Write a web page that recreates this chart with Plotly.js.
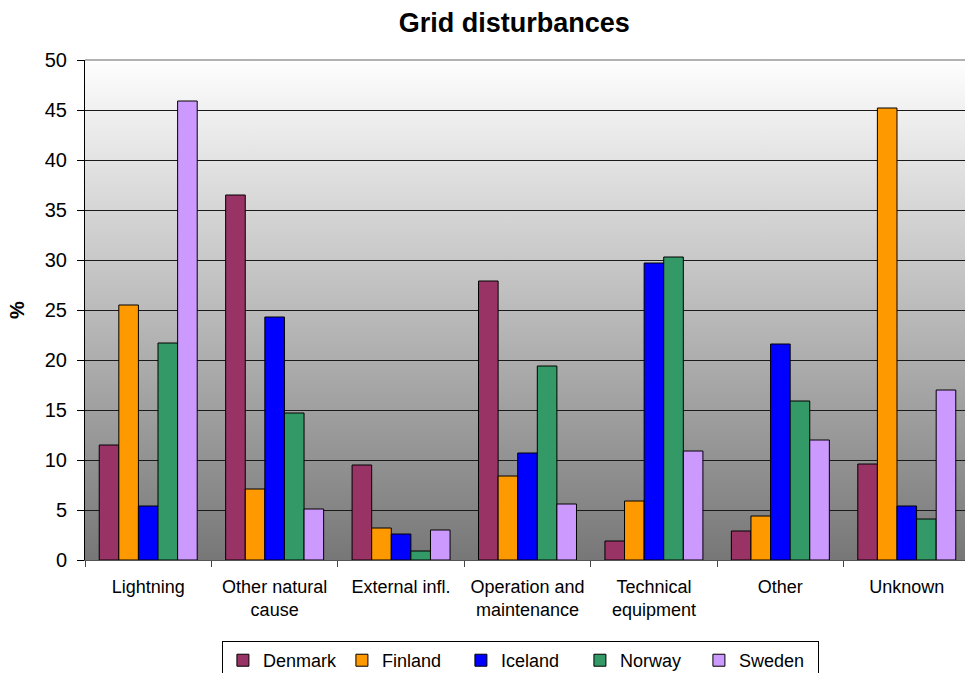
<!DOCTYPE html>
<html>
<head>
<meta charset="utf-8">
<script src="https://cdn.plot.ly/plotly-3.0.1.min.js"></script>
<style>
html,body{margin:0;padding:0;overflow:hidden;background:#fff;}
#chart{width:975px;height:673px;}
</style>
</head>
<body>
<div id="chart"></div>
<script>
var categories = ["Lightning", "Other natural cause", "External infl.", "Operation and maintenance", "Technical equipment", "Other", "Unknown"];
var tickLabels = ["Lightning", "Other natural<br>cause", "External infl.", "Operation and<br>maintenance", "Technical<br>equipment", "Other", "Unknown"];
var seriesNames = ["Denmark", "Finland", "Iceland", "Norway", "Sweden"];
var denmark = [11.5, 36.5, 9.5, 27.9, 1.9, 2.9, 9.6];
var finland = [25.5, 7.1, 3.2, 8.4, 5.9, 4.4, 45.2];
var iceland = [5.4, 24.3, 2.6, 10.7, 29.7, 21.6, 5.4];
var norway  = [21.7, 14.7, 0.9, 19.4, 30.3, 15.9, 4.1];
var sweden  = [45.9, 5.1, 3.0, 5.6, 10.9, 12.0, 17.0];
var colors = ["#993366", "#FF9900", "#0000FF", "#339966", "#CC99FF"];

var values = [denmark, finland, iceland, norway, sweden];
var traces = values.map(function(v, i){
  return {
    type: "bar",
    name: seriesNames[i],
    x: categories,
    y: v,
    marker: {color: colors[i], line: {color: "#000", width: 1}},
    hoverinfo: "x+y+name"
  };
});

var svg = '<svg xmlns="http://www.w3.org/2000/svg" width="100" height="100" preserveAspectRatio="none">' +
  '<defs><linearGradient id="g" x1="0" y1="0" x2="0" y2="1">' +
  '<stop offset="0" stop-color="#fefefe"/><stop offset="1" stop-color="#777777"/>' +
  '</linearGradient></defs><rect width="100" height="100" fill="url(#g)"/></svg>';
var bgImg = "data:image/svg+xml;charset=utf-8," + encodeURIComponent(svg);

var layout = {
  width: 975,
  height: 673,
  margin: {l: 85, r: 5, t: 60, b: 113, autoexpand: false},
  paper_bgcolor: "#ffffff",
  plot_bgcolor: "rgba(0,0,0,0)",
  font: {family: "Liberation Sans, Arial, sans-serif", color: "#000"},
  title: {
    text: "<b>Grid disturbances</b>",
    font: {size: 27, family: "Liberation Sans, Arial, sans-serif", color: "#000"},
    x: 0.485, xref: "paper", xanchor: "center",
    y: 0.966, yref: "container", yanchor: "middle"
  },
  barmode: "group",
  bargap: 0.225,
  bargroupgap: 0,
  showlegend: true,
  legend: {
    orientation: "h",
    x: 0.492, xanchor: "center", xref: "paper",
    y: 0.0475, yanchor: "top", yref: "container",
    bordercolor: "#000", borderwidth: 1,
    bgcolor: "#fff",
    font: {size: 18},
    entrywidth: 74,
    itemwidth: 30,
    traceorder: "normal"
  },
  xaxis: {
    type: "category",
    tickvals: categories,
    ticktext: tickLabels,
    tickson: "boundaries",
    ticks: "outside",
    ticklen: 6,
    tickcolor: "#444",
    tickfont: {size: 18},
    ticklabelstandoff: 10,
    showline: true,
    linecolor: "#555",
    linewidth: 1,
    mirror: false,
    showgrid: false,
    zeroline: false,
    automargin: false,
    fixedrange: true
  },
  yaxis: {
    range: [0, 50],
    dtick: 5,
    tick0: 0,
    ticks: "outside",
    ticklen: 7,
    tickcolor: "#000",
    tickfont: {size: 20},
    ticklabelstandoff: 6,
    showline: true,
    linecolor: "#000",
    linewidth: 1,
    showgrid: true,
    gridcolor: "#1a1a1a",
    gridwidth: 1,
    zeroline: false,
    automargin: false,
    title: {text: "<b>%</b>", font: {size: 20}, standoff: 14},
    fixedrange: true
  },
  shapes: [{
    type: "line", xref: "paper", yref: "paper",
    x0: 0, x1: 1, y0: 1, y1: 1,
    line: {color: "#999", width: 1.5}
  }],
  images: [{
    source: bgImg,
    xref: "paper", yref: "paper",
    x: 0, y: 1, sizex: 1, sizey: 1,
    xanchor: "left", yanchor: "top",
    sizing: "stretch",
    layer: "below"
  }]
};

Plotly.newPlot("chart", traces, layout, {displayModeBar: false, staticPlot: true});
</script>
</body>
</html>
